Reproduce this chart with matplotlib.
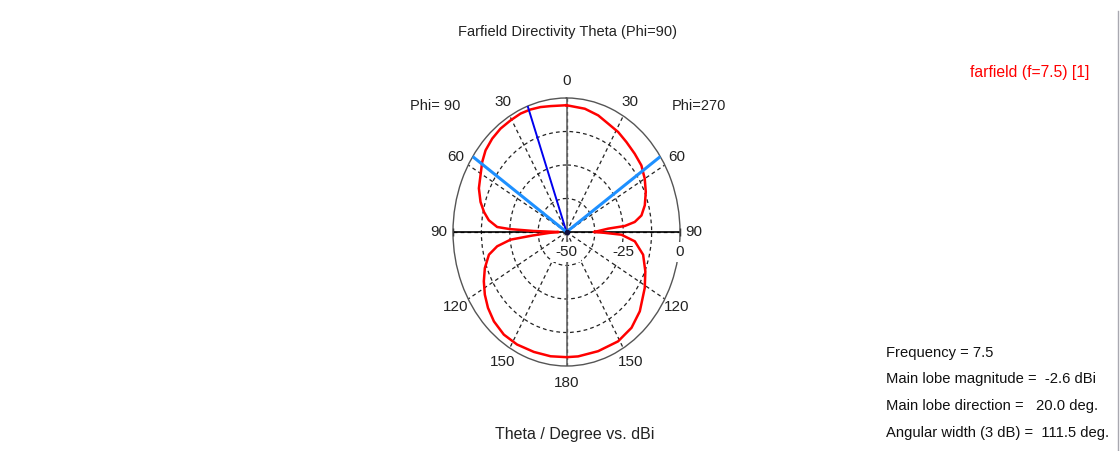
import numpy as np
import matplotlib
matplotlib.use("Agg")
import matplotlib.pyplot as plt
from matplotlib.lines import Line2D

plt.rcParams['font.family'] = ['Liberation Sans', 'DejaVu Sans']

# --- data (angle CCW from top, left half = Phi 90, right half = Phi 270) ---
plot_angle_deg = [0, 8.5, 13.8, 19.3, 24.6, 30.6, 37.0, 43.2, 49.5, 54.9, 60.8, 67.1,
                  73.5, 78.4, 82.7, 86.5, 87.5, 88.5, 90, 92.5, 95, 96.6, 99.9, 103.9,
                  110.5, 116.8, 123.0, 129.3, 136.2, 144.2, 152.6, 162.2, 171.4, 180,
                  186.3, 197.4, 209.1, 218.7, 227.5, 238.8, 247.1, 255.9, 263.4, 267.6,
                  269, 270, 271.5, 273.9, 275, 277.1, 280.6, 286.1, 293.2, 300.0, 307.0,
                  314.2, 321.8, 328.6, 335.6, 342.2, 350.0, 360]
directivity_dbi = [-2.7, -2.5, -2.0, -1.6, -1.4, -1.6, -1.7, -2.2, -3.1, -4.6, -6.6, -8.1,
                   -10.5, -12.9, -15.5, -19.4, -25.0, -35.5, -46.5, -42.5, -35.0, -25.2, -19.0, -14.8,
                   -11.6, -9.2, -7.1, -5.3, -3.8, -2.8, -2.7, -3.0, -3.1, -3.3,
                   -3.3, -3.4, -3.3, -4.2, -6.2, -9.7, -12.3, -15.2, -19.7, -25.8,
                   -33.5, -38.0, -36.0, -31.6, -24.2, -19.7, -16.4, -14.1, -12.0, -10.2, -8.7,
                   -8.1, -7.3, -6.3, -5.6, -4.3, -3.3, -2.7]

frequency = 7.5
main_lobe_mag = -2.6
main_lobe_dir = 20.0
angular_width = 111.5

r_min, r_max = -50, 0
angle_labels = [0, 30, 60, 90, 120, 150, 180, 150, 120, 90, 60, 30]
radial_labels = [-50, -25, 0]

W, H = 1120, 451
fig = plt.figure(figsize=(W / 100, H / 100), dpi=100)
txt_col = '#222222'

# polar axes stretched to an ellipse like the CST window
cx, cy, rx, ry = 566.5, 232, 113.5, 134
ax = fig.add_axes([(cx - rx) / W, (H - cy - ry) / H, 2 * rx / W, 2 * ry / H], projection='polar')
ax.set_aspect('auto')
ax.set_theta_zero_location('N')
ax.set_theta_direction(1)
ax.set_ylim(r_min, r_max)
ax.set_axisbelow(True)

ax.set_thetagrids(range(0, 360, 30), labels=[''] * 12)
ax.set_rgrids([-37.5, -25, -12.5], labels=['', '', ''])
ax.grid(True, color='#222222', lw=0.9, ls=(0, (3, 2.5)))
ax.spines['polar'].set_color('#555555')
ax.spines['polar'].set_linewidth(1.0)
ax.tick_params(length=0)

# solid axis lines
for a in [0, 180]:
    ax.axvline(np.radians(a), color='#666666', lw=1.2, zorder=1.5)
for a in [90, 270]:
    ax.axvline(np.radians(a), color='black', lw=1.2, zorder=1.5)
ax.plot([np.radians(90), np.radians(270)], [r_max, r_max], ls='none', marker='|',
        ms=6, mew=1.0, color='black', clip_on=False, zorder=1.5)

# radial labels below the horizontal axis (white box hides the grid behind)
for v in radial_labels:
    ax.annotate(str(v), xy=(np.radians(270), v), xytext=(0, -20), textcoords='offset pixels',
                ha='center', va='center', fontsize=11, color=txt_col, annotation_clip=False,
                bbox=dict(boxstyle='square,pad=0.2', fc='white', ec='none'), zorder=3)

# pattern
th = np.radians(plot_angle_deg)
ax.plot(th, directivity_dbi, color='#ff0000', lw=1.8, zorder=4)

# main lobe direction and 3 dB width lines
ax.plot([np.radians(main_lobe_dir)] * 2, [r_min, r_max], color='#0000ee', lw=1.4, zorder=5)
for a in [angular_width / 2, -angular_width / 2]:
    ax.plot([np.radians(a)] * 2, [r_min, r_max], color='#1e90ff', lw=2.2, zorder=5)
ax.plot([0], [r_min], 'o', color='#101040', ms=3, zorder=6)

# angle labels around the outside
for i, lab in enumerate(angle_labels):
    ax.text(np.radians(i * 30), 6.2, str(lab), ha='center', va='center',
            fontsize=11, color=txt_col, clip_on=False)

fig.text(435 / W, 1 - 106 / H, 'Phi= 90', ha='center', va='center', fontsize=10.5, color=txt_col)
fig.text(699 / W, 1 - 106 / H, 'Phi=270', ha='center', va='center', fontsize=10.5, color=txt_col)

fig.text(567 / W, 1 - 32 / H, 'Farfield Directivity Theta (Phi=90)', ha='center', va='center',
         fontsize=10.5, color=txt_col)
fig.text(575 / W, 1 - 435 / H, 'Theta / Degree vs. dBi', ha='center', va='center',
         fontsize=11.5, color=txt_col)
fig.text(1089 / W, 1 - 73 / H, 'farfield (f=%.1f) [1]' % frequency, ha='right', va='center',
         fontsize=11.3, color='#ff0000')

info = ['Frequency = %.1f' % frequency,
        'Main lobe magnitude =  %.1f dBi' % main_lobe_mag,
        'Main lobe direction =   %.1f deg.' % main_lobe_dir,
        'Angular width (3 dB) =  %.1f deg.' % angular_width]
for k, line in enumerate(info):
    fig.text(886 / W, 1 - (353 + 26.5 * k) / H, line, ha='left', va='center',
             fontsize=10.6, color='#111111')

# window border on the right
fig.add_artist(Line2D([1118 / W, 1118 / W], [0, 1 - 11 / H], color='#a8a8b0', lw=1))

fig.savefig('out.png', dpi=100)
